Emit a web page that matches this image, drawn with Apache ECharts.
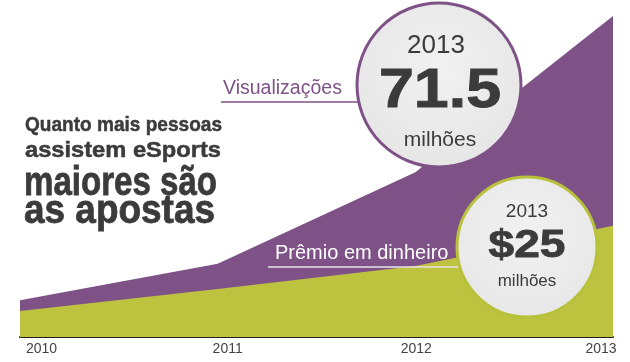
<!DOCTYPE html>
<html>
<head>
<meta charset="utf-8">
<script src="https://cdn.jsdelivr.net/npm/echarts@6/dist/echarts.min.js"></script>
<style>html,body{margin:0;padding:0;background:#fff;}#c{width:630px;height:362px;}</style>
</head>
<body>
<div id="c"></div>
<script>
var years = ['2010', '2011', '2012', '2013'];
var views = [8.2, 16.3, 36.7, 71.5];      // Visualizações (milhões)
var prize = [5.8, 10.7, 15.8, 24.8];      // Prêmio em dinheiro (milhões)

var chart = echarts.init(document.getElementById('c'), null, {renderer: 'canvas'});
var labelAligns = ['left', 'center', 'center', 'center'];
var labelPads = [[0, 0, 0, 6], [0, 0, 0, 20], [0, 0, 0, 2], [0, 24, 0, 0]];
var SANS = '"Liberation Sans", Arial, sans-serif';
var purple = '#7e5287', green = '#bdc23f', dark = '#3b3b3b';

var mctx = document.createElement('canvas').getContext('2d');
// condensed bold text: Liberation Sans Bold squeezed horizontally to the width seen in the picture
function cond(text, size, left, midY, width, align, z, thick) {
  var font = 'bold ' + size + 'px ' + SANS;
  mctx.font = font;
  var w = mctx.measureText(text).width;
  var sx = width / w;
  var st = {text: text, font: font, fill: dark, textAlign: align || 'left', textVerticalAlign: 'middle'};
  if (thick) { st.stroke = dark; st.lineWidth = thick; }
  return {type: 'text', x: left, y: midY, scaleX: sx, scaleY: 1, z: z || 10, style: st};
}

chart.setOption({
  backgroundColor: '#fff',
  animation: false,
  grid: {left: 20, right: 17, top: 16, bottom: 25},
  xAxis: {
    type: 'category',
    boundaryGap: false,
    data: years.map(function (y, i) {
      return {value: y, textStyle: {align: labelAligns[i], padding: labelPads[i]}};
    }),
    axisLine: {lineStyle: {color: '#222', width: 2}},
    axisTick: {show: false},
    axisLabel: {color: '#444', fontSize: 14, fontFamily: SANS, margin: 5, interval: 0}
  },
  yAxis: {type: 'value', min: 0, max: 71.5, show: false, splitLine: {show: false}},
  series: [
    {name: 'Visualizações', type: 'line', data: views, symbol: 'none',
     lineStyle: {width: 0}, areaStyle: {color: purple, opacity: 1}, z: 1},
    {name: 'Prêmio em dinheiro', type: 'line', data: prize, symbol: 'none',
     lineStyle: {width: 0}, areaStyle: {color: green, opacity: 1}, z: 2}
  ],
  graphic: [
    // title block
    cond('Quanto mais pessoas', 21, 25, 125, 197, 'left', 10, 0.5),
    cond('assistem eSports', 22, 25, 151, 196, 'left', 10, 0.5),
    cond('maiores são', 41, 24, 184, 193, 'left', 10, 0.8),
    cond('as apostas', 41, 24, 212, 191, 'left', 10, 0.8),
    // Visualizações label + leader
    {type: 'line', shape: {x1: 221, y1: 102, x2: 362, y2: 102}, style: {stroke: purple, lineWidth: 1.5}, z: 10},
    {type: 'text', x: 223, y: 89, style: {text: 'Visualizações', font: '19.5px ' + SANS, fill: purple, textVerticalAlign: 'middle'}, z: 10},
    // Prêmio label + leader
    {type: 'line', shape: {x1: 268, y1: 267, x2: 462, y2: 267}, style: {stroke: '#e8e3ea', lineWidth: 1.5}, z: 10},
    {type: 'text', x: 275, y: 253, style: {text: 'Prêmio em dinheiro', font: '20px ' + SANS, fill: '#ffffff', textVerticalAlign: 'middle'}, z: 10},
    // big circle
    {type: 'circle', shape: {cx: 439, cy: 85, r: 82},
     style: {fill: new echarts.graphic.RadialGradient(0.5, 0.4, 0.7, [{offset: 0, color: '#f1f1f1'}, {offset: 1, color: '#e4e4e4'}]), stroke: purple, lineWidth: 3}, z: 20},
    {type: 'text', x: 436, y: 46, style: {text: '2013', font: '26px ' + SANS, fill: dark, textAlign: 'center', textVerticalAlign: 'middle'}, z: 21},
    cond('71.5', 56, 440, 92, 122, 'center', 21, 1),
    {type: 'text', x: 440, y: 140, style: {text: 'milhões', font: '21px ' + SANS, fill: dark, textAlign: 'center', textVerticalAlign: 'middle'}, z: 21},
    // small circle
    {type: 'circle', shape: {cx: 527, cy: 247, r: 70},
     style: {fill: new echarts.graphic.RadialGradient(0.5, 0.4, 0.7, [{offset: 0, color: '#f1f1f1'}, {offset: 1, color: '#e6e6e6'}]), stroke: '#b8c13a', lineWidth: 3}, z: 20},
    {type: 'text', x: 527, y: 212, style: {text: '2013', font: '19px ' + SANS, fill: dark, textAlign: 'center', textVerticalAlign: 'middle'}, z: 21},
    cond('$25', 38, 527, 247, 77, 'center', 21, 0.8),
    {type: 'text', x: 527, y: 281, style: {text: 'milhões', font: '17px ' + SANS, fill: dark, textAlign: 'center', textVerticalAlign: 'middle'}, z: 21}
  ]
});
</script>
</body>
</html>
